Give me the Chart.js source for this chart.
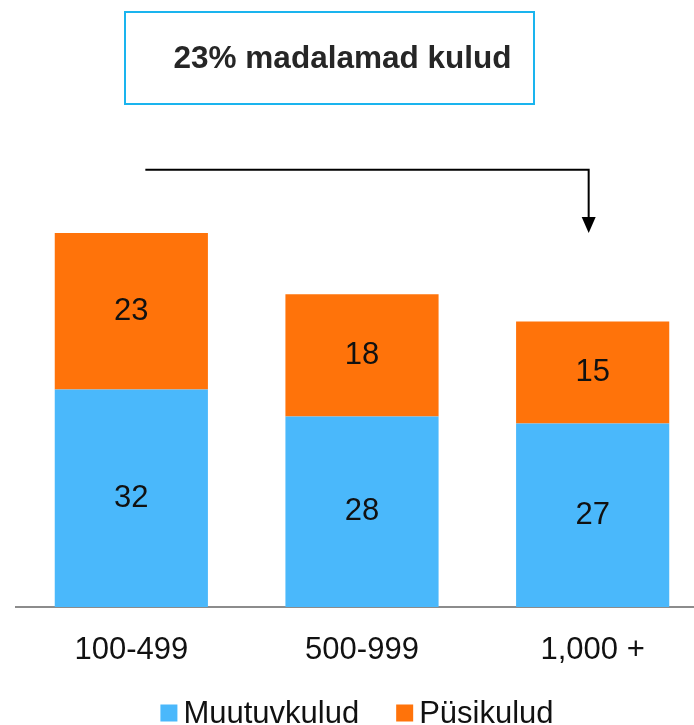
<!DOCTYPE html>
<html>
<head>
<meta charset="utf-8">
<script src="https://cdn.jsdelivr.net/npm/chart.js@4"></script>
<style>
html,body{margin:0;padding:0;background:#fff;overflow:hidden;}
#wrap{width:708px;height:725px;position:relative;}
</style>
</head>
<body>
<div id="wrap"><canvas id="c"></canvas></div>
<script>
const categories = ["100-499", "500-999", "1,000 +"];
const variableCosts = [32, 28, 27];
const fixedCosts = [23, 18, 15];
const seriesNames = ["Muutuvkulud", "Püsikulud"];
const titleText = "23% madalamad kulud";

const FONT = "'Liberation Sans', Arial, sans-serif";

const overlayPlugin = {
  id: 'overlay',
  afterDatasetsDraw(chart) {
    const ctx = chart.ctx;
    ctx.save();
    ctx.fillStyle = '#111';
    ctx.font = "31px " + FONT;
    ctx.textAlign = 'center';
    ctx.textBaseline = 'middle';
    chart.data.datasets.forEach((ds, di) => {
      const meta = chart.getDatasetMeta(di);
      meta.data.forEach((bar, i) => {
        const top = Math.min(bar.y, bar.base), bot = Math.max(bar.y, bar.base);
        ctx.fillText(String(ds.data[i]), bar.x, (top + bot) / 2);
      });
    });
    ctx.restore();
  },
  afterDraw(chart) {
    const ctx = chart.ctx;
    const x = chart.scales.x, y = chart.scales.y;
    ctx.save();
    // title box
    ctx.strokeStyle = '#1ab4ee';
    ctx.lineWidth = 2;
    ctx.strokeRect(125, 12, 409, 92);
    ctx.fillStyle = '#262626';
    ctx.font = "bold 31.5px " + FONT;
    ctx.textAlign = 'center';
    ctx.textBaseline = 'middle';
    ctx.fillText(titleText, 342.5, 59);
    // arrow
    const yTop = y.getPixelForValue(64.3);
    const yTip = y.getPixelForValue(variableCosts[0] + fixedCosts[0]);
    const x0 = x.getPixelForValue(0) + 14;
    const x1 = x.getPixelForValue(2) - 4;
    ctx.strokeStyle = '#000';
    ctx.lineWidth = 2;
    ctx.beginPath();
    ctx.moveTo(x0, yTop);
    ctx.lineTo(x1, yTop);
    ctx.lineTo(x1, yTip - 12);
    ctx.stroke();
    ctx.fillStyle = '#000';
    ctx.beginPath();
    ctx.moveTo(x1 - 7, yTip - 16);
    ctx.lineTo(x1 + 7, yTip - 16);
    ctx.lineTo(x1, yTip);
    ctx.closePath();
    ctx.fill();
    // legend
    ctx.font = "31px " + FONT;
    ctx.textAlign = 'left';
    ctx.textBaseline = 'middle';
    const box = 17, gapBT = 6, gapItems = 37;
    const items = chart.data.datasets.map(ds => ({ text: ds.label, color: ds.backgroundColor, w: ctx.measureText(ds.label).width }));
    let total = 0;
    items.forEach((it, i) => { total += box + gapBT + it.w + (i ? gapItems : 0); });
    let lx = 357 - total / 2;
    const ly = 713;
    items.forEach((it) => {
      ctx.fillStyle = it.color;
      ctx.fillRect(lx, ly - box / 2, box, box);
      ctx.fillStyle = '#111';
      ctx.fillText(it.text, lx + box + gapBT, ly + 1);
      lx += box + gapBT + it.w + gapItems;
    });
    ctx.restore();
  }
};

new Chart(document.getElementById('c'), {
  type: 'bar',
  data: {
    labels: categories,
    datasets: [
      { label: seriesNames[0], data: variableCosts, backgroundColor: '#4ab8fb', borderWidth: 0, barPercentage: 0.664, categoryPercentage: 1 },
      { label: seriesNames[1], data: fixedCosts, backgroundColor: '#ff730a', borderWidth: 0, barPercentage: 0.664, categoryPercentage: 1 }
    ]
  },
  options: {
    responsive: true,
    maintainAspectRatio: false,
    animation: false,
    layout: { padding: { top: 63, left: 16, right: 0, bottom: 0 } },
    scales: {
      x: {
        stacked: true,
        grid: { display: false, drawTicks: false },
        border: { display: true, color: '#8c8c8c', width: 2 },
        ticks: { color: '#111', font: { family: FONT, size: 31 }, padding: 25 },
        afterFit(scale) { scale.height = 118; }
      },
      y: {
        stacked: true,
        display: false,
        min: 0,
        max: 80
      }
    },
    plugins: {
      legend: { display: false },
      tooltip: { enabled: false },
      title: { display: false }
    }
  },
  plugins: [overlayPlugin]
});
</script>
</body>
</html>
